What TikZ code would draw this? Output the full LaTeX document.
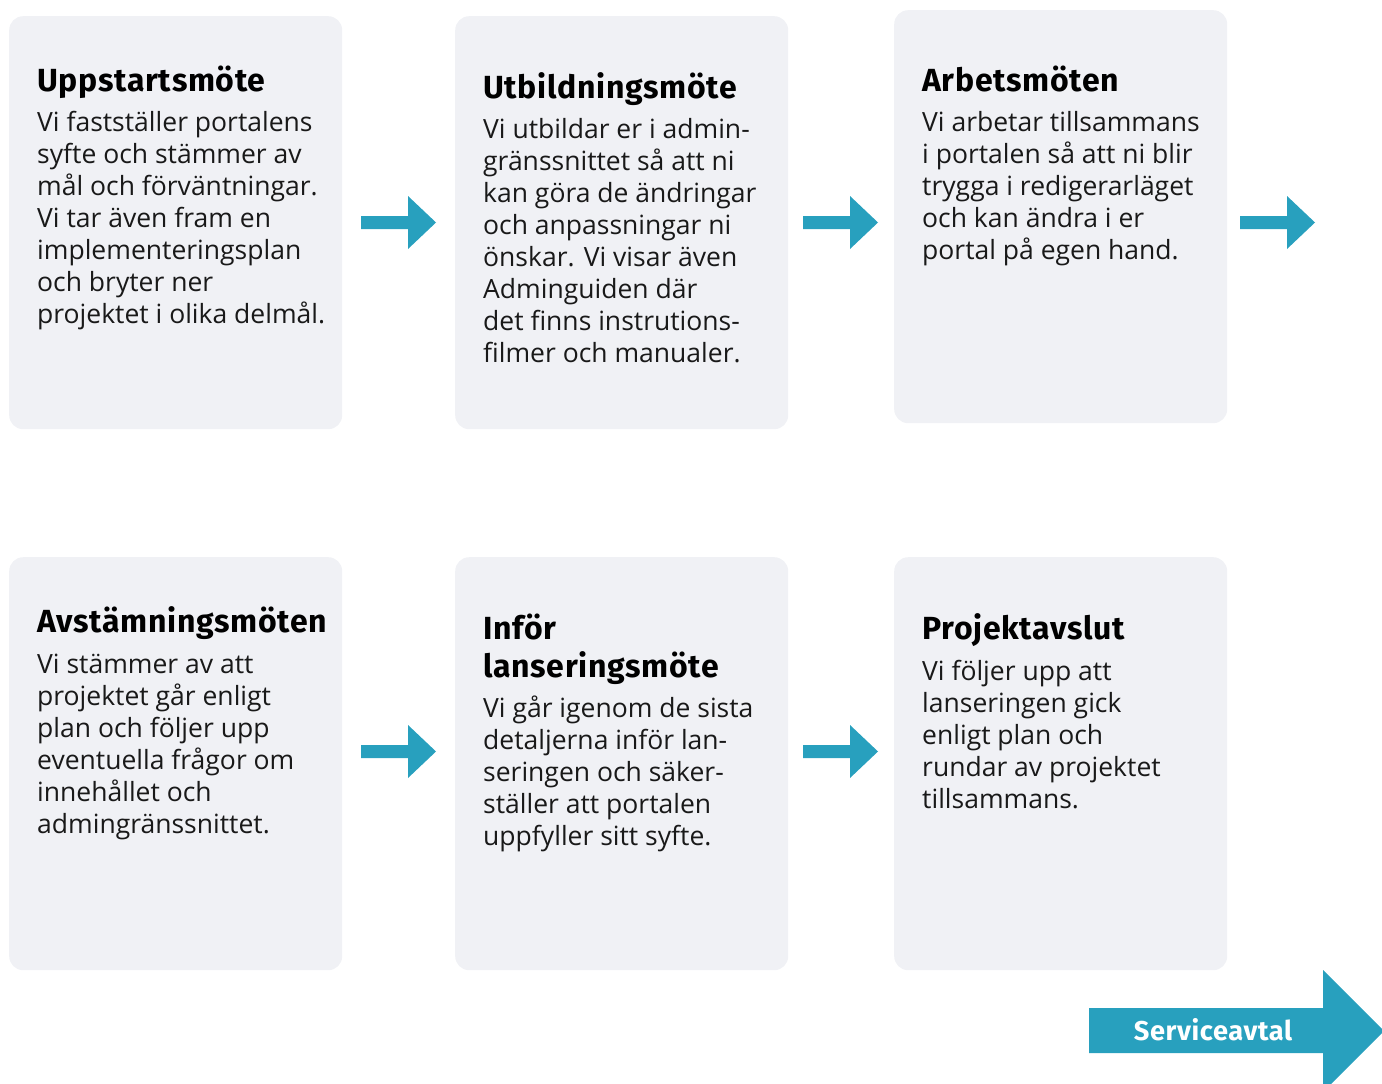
\documentclass[tikz,border=0pt]{standalone}
\usepackage{fontspec}
\setmainfont{Open Sans}
\newfontfamily\titlefont[LetterSpace=2.2]{Fira Sans}
\definecolor{tealarrow}{HTML}{28A0BE}
\definecolor{boxbg}{HTML}{F0F1F5}
\newcommand\cardtext[1]{\parbox[t]{330pt}{\raggedright #1}}
\newcommand\flowarrow[2]{%
  \fill[blockarrow] (#1,#2-6.5) -- (#1+47,#2-6.5) -- (#1+47,#2-26.5) -- (#1+75,#2)
    -- (#1+47,#2+26.5) -- (#1+47,#2+6.5) -- (#1,#2+6.5) -- cycle;}
\tikzset{
  card/.style={fill=boxbg, rounded corners=14pt, inner sep=0pt, minimum width=333pt, minimum height=413pt, anchor=north west},
  ttl/.style={anchor=base west, inner sep=0pt, text=black, font=\titlefont\bfseries\fontsize{32}{38}\selectfont},
  bdy/.style={anchor=base west, inner sep=0pt, text=black!90, font=\fontsize{26.5}{32}\selectfont},
  blockarrow/.style={fill=tealarrow},
  bigtext/.style={text=white, inner sep=0pt, font=\titlefont\bfseries\fontsize{27.2}{32}\selectfont}
}
\begin{document}
\begin{tikzpicture}[x=1pt,y=-1pt]
\useasboundingbox (0,0) rectangle (1382,1084);
\clip (0,0) rectangle (1382,1084);
% cards
\node[card] (b1) at (9,16) {};
\node[card] (b2) at (455,16) {};
\node[card] (b3) at (894,10) {};
\node[card] (b4) at (9,557) {};
\node[card] (b5) at (455,557) {};
\node[card] (b6) at (894,557) {};
% texts
\node[ttl] (t1) at (37,91) {\cardtext{Uppstartsmöte}};
\node[bdy] (x1) at (37,131) {\cardtext{Vi fastställer portalens\\syfte och stämmer av\\mål och förväntningar.\\Vi tar även fram en\\implementeringsplan\\och bryter ner\\projektet i olika delmål.}};
\node[ttl] (t2) at (483,98) {\cardtext{Utbildningsmöte}};
\node[bdy] (x2) at (483,138) {\cardtext{Vi utbildar er i admin-\\gränssnittet så att ni\\kan göra de ändringar\\och anpassningar ni\\önskar. Vi visar även\\Adminguiden där\\det finns instrutions-\\filmer och manualer.}};
\node[ttl] (t3) at (922,91) {\cardtext{Arbetsmöten}};
\node[bdy] (x3) at (922,131) {\cardtext{Vi arbetar tillsammans\\i portalen så att ni blir\\trygga i redigerarläget\\och kan ändra i er\\portal på egen hand.}};
\node[ttl] (t4) at (37,632) {\cardtext{Avstämningsmöten}};
\node[bdy] (x4) at (37,673) {\cardtext{Vi stämmer av att\\projektet går enligt\\plan och följer upp\\eventuella frågor om\\innehållet och\\admingränssnittet.}};
\node[ttl] (t5) at (483,639) {\cardtext{Inför\\lanseringsmöte}};
\node[bdy] (x5) at (483,717) {\cardtext{Vi går igenom de sista\\detaljerna inför lan-\\seringen och säker-\\ställer att portalen\\uppfyller sitt syfte.}};
\node[ttl] (t6) at (922,639) {\cardtext{Projektavslut}};
\node[bdy] (x6) at (922,680) {\cardtext{Vi följer upp att\\lanseringen gick\\enligt plan och\\rundar av projektet\\tillsammans.}};
% arrows
\flowarrow{361}{222.5}
\flowarrow{803}{222.5}
\flowarrow{1240}{222.5}
\flowarrow{361}{751.5}
\flowarrow{803}{751.5}
% big arrow
\fill[blockarrow] (1089,1008) -- (1323,1008) -- (1323,970) -- (1384,1031) -- (1323,1092) -- (1323,1053) -- (1089,1053) -- cycle;
\node[bigtext] (sa) at (1213,1030) {Serviceavtal};
\end{tikzpicture}
\end{document}
